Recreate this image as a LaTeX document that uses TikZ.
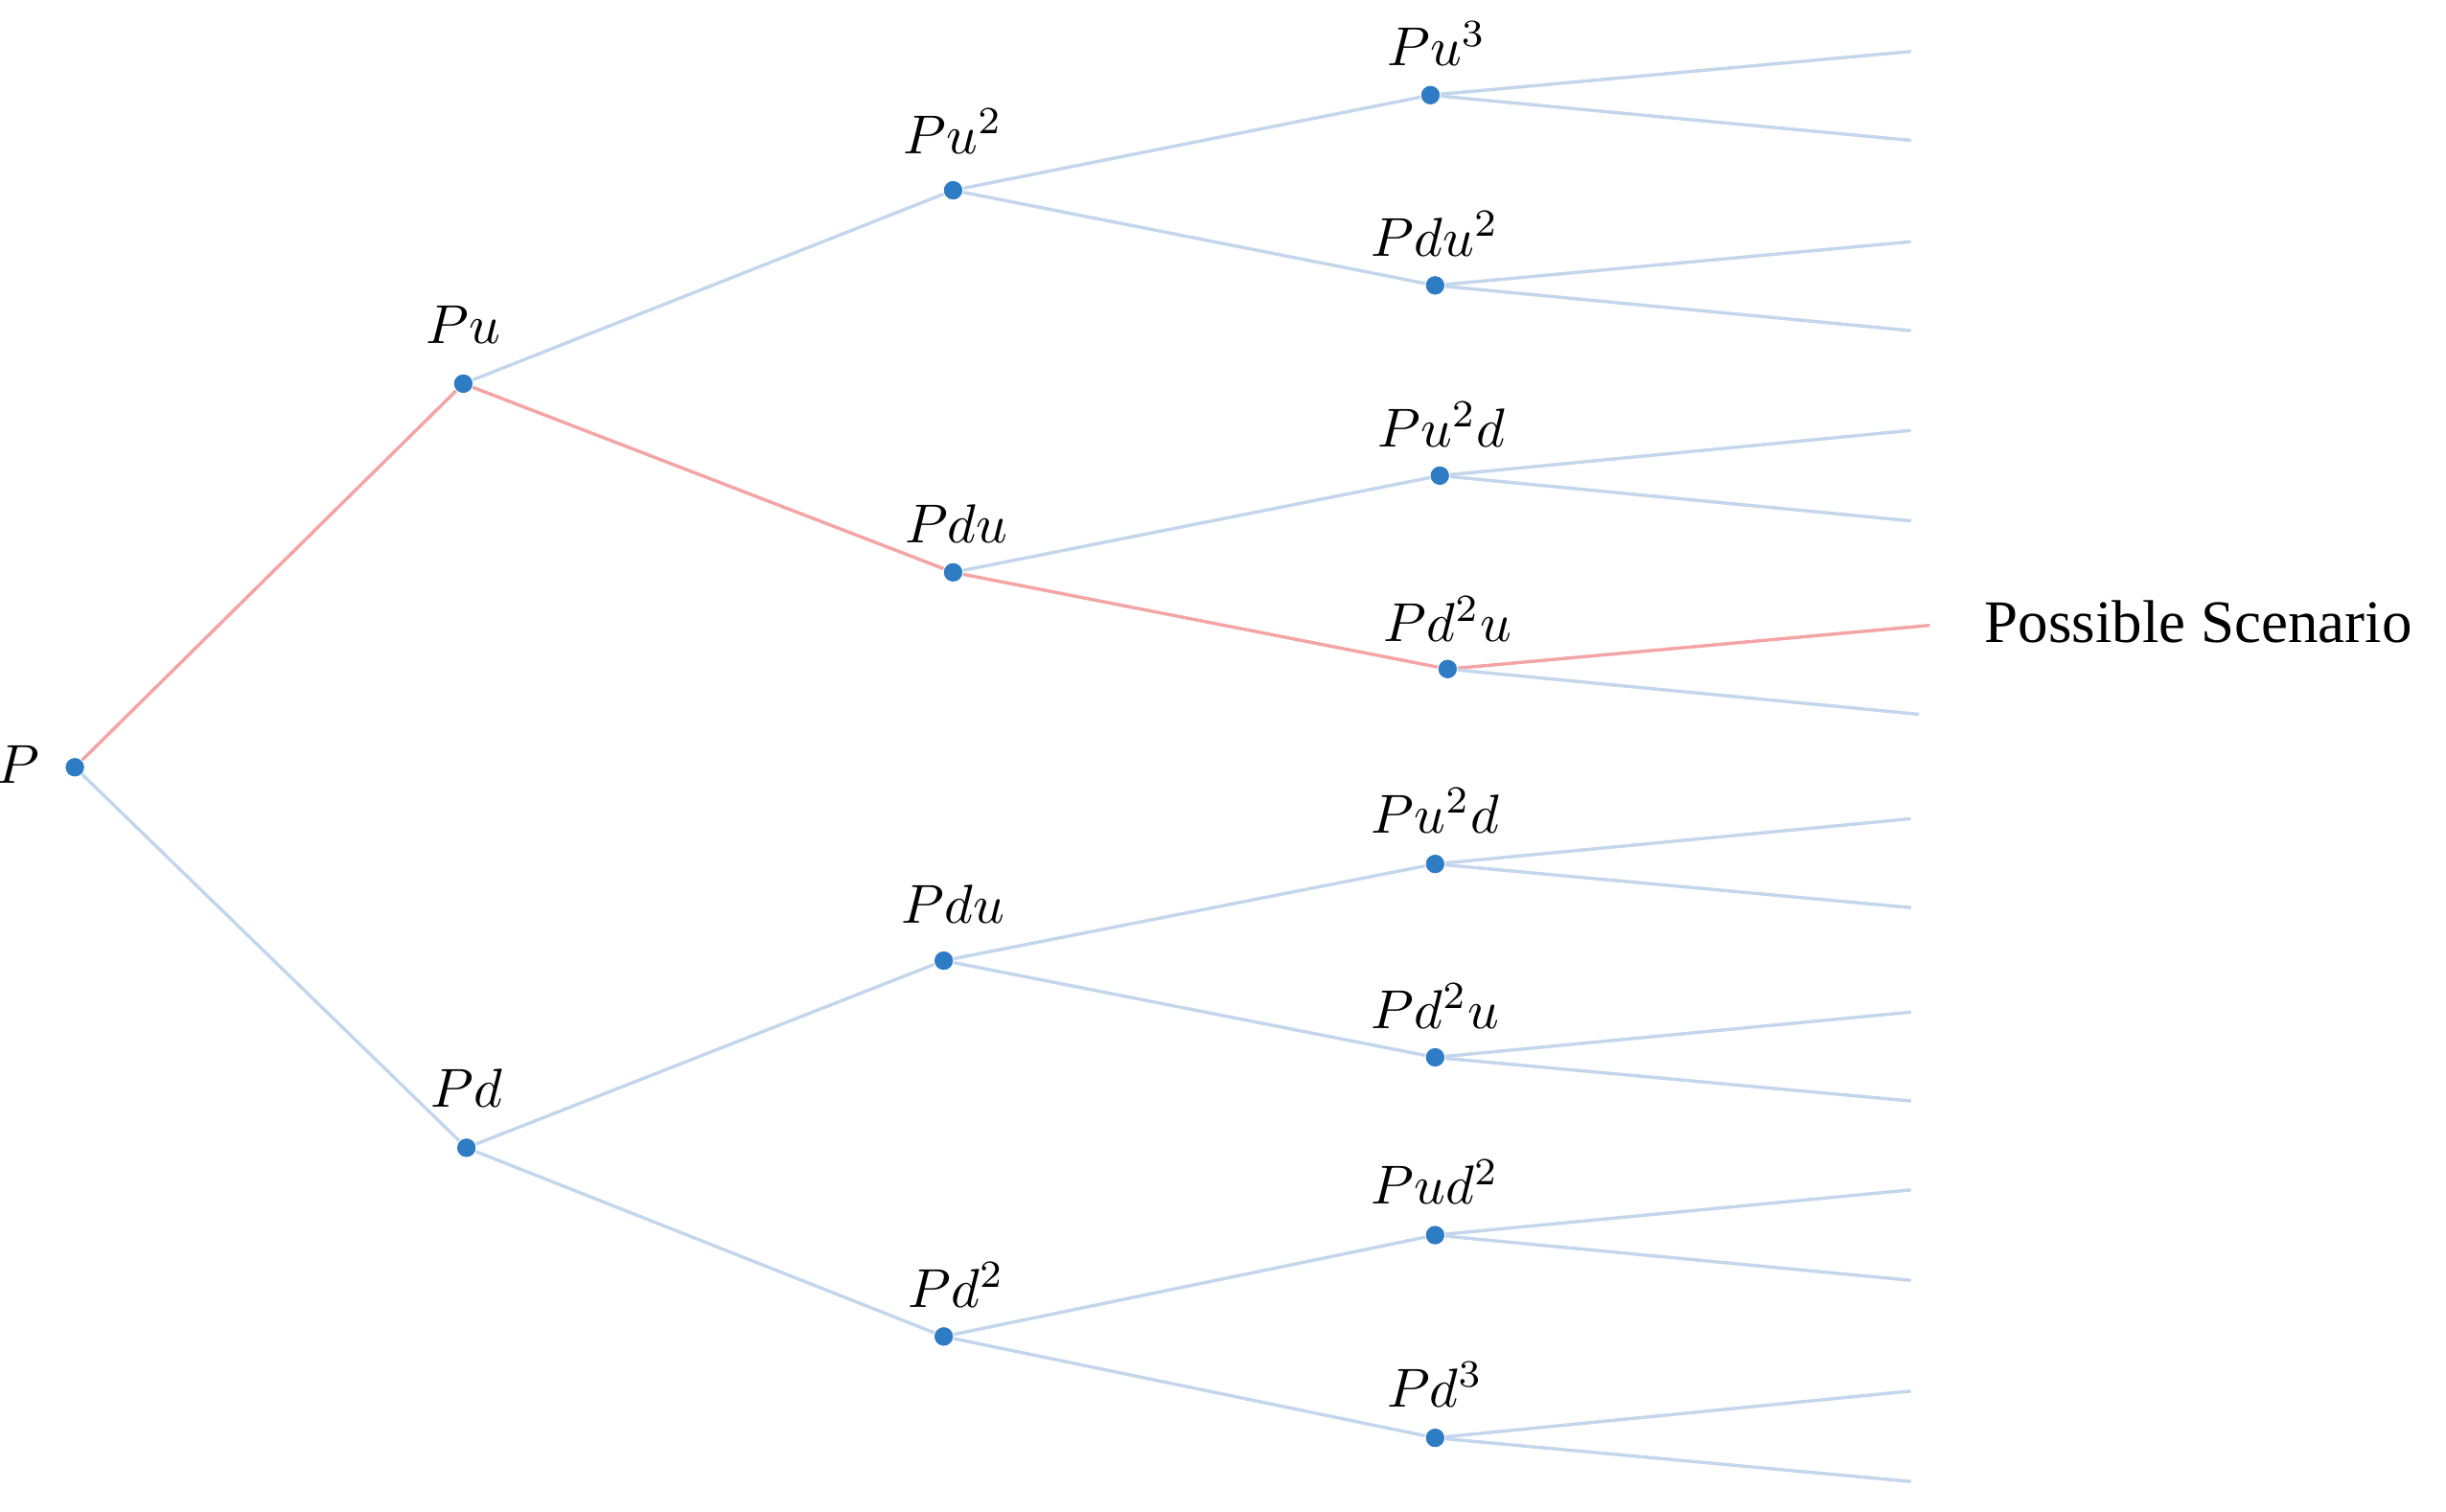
\documentclass[tikz,border=0pt]{standalone}
\usepackage{fontspec}
\setmainfont{Liberation Serif}
\begin{document}
\begin{tikzpicture}[x=0.01cm,y=-0.01cm,
  dot/.style={circle,fill=dotc,inner sep=0pt,minimum size=9.5pt*0.35},
  bl/.style={draw=blc,line width=0.6pt},
  rd/.style={draw=rdc,line width=0.6pt},
  lab/.style={font=\fontsize{10}{11}\selectfont}]
\definecolor{dotc}{HTML}{2E7CC4}
\definecolor{blc}{HTML}{C3D6EC}
\definecolor{rdc}{HTML}{F4A4A4}
\useasboundingbox (0,0) rectangle (1568,969);
\node[dot] (P) at (48,492) {};
\node[dot] (Pu) at (297,246) {};
\node[dot] (Pd) at (299,736) {};
\node[dot] (Puu) at (611,122) {};
\node[dot] (Pdu) at (611,367) {};
\node[dot] (Pdub) at (605,616) {};
\node[dot] (Pdd) at (605,857) {};
\node[dot] (A) at (917,61) {};
\node[dot] (B) at (920,183) {};
\node[dot] (C) at (923,305) {};
\node[dot] (D) at (928,429) {};
\node[dot] (E) at (920,554) {};
\node[dot] (F) at (920,678) {};
\node[dot] (G) at (920,792) {};
\node[dot] (H) at (920,922) {};
\node[lab,anchor=east] at (38,490) {$P$};
\node[lab] at (297,208) {$Pu$};
\node[lab] at (299,698) {$Pd$};
\node[lab] at (611,84) {$Pu^2$};
\node[lab] at (613,336) {$Pdu$};
\node[lab] at (611,580) {$Pdu$};
\node[lab] at (613,824) {$Pd^2$};
\node[lab] at (921,28) {$Pu^3$};
\node[lab] at (920,150) {$Pdu^2$};
\node[lab] at (924,272) {$Pu^2d$};
\node[lab] at (928,397) {$Pd^2u$};
\node[lab] at (920,520) {$Pu^2d$};
\node[lab] at (920,645) {$Pd^2u$};
\node[lab] at (920,758) {$Pud^2$};
\node[lab] at (920,888) {$Pd^3$};
\path[bl] (P) -- (Pd);
\path[rd] (P) -- (Pu);
\path[bl] (Pu) -- (Puu);
\path[rd] (Pu) -- (Pdu);
\path[bl] (Pd) -- (Pdub);
\path[bl] (Pd) -- (Pdd);
\path[bl] (Puu) -- (A); \path[bl] (Puu) -- (B);
\path[bl] (Pdu) -- (C); \path[rd] (Pdu) -- (D);
\path[bl] (Pdub) -- (E); \path[bl] (Pdub) -- (F);
\path[bl] (Pdd) -- (G); \path[bl] (Pdd) -- (H);
\foreach \n/\a/\b in {A/33/90,B/155/212,C/276/334,E/525/582,F/649/706,G/763/821,H/892/950}{
  \coordinate (\n1) at (1225,\a); \coordinate (\n2) at (1225,\b);
  \path[bl] (\n) -- (\n1); \path[bl] (\n) -- (\n2);}
\coordinate (D1) at (1237,401); \coordinate (D2) at (1230,458);
\path[rd] (D) -- (D1); \path[bl] (D) -- (D2);
\node[font=\fontsize{11}{12}\selectfont,anchor=west] (ps) at (1260,399) {Possible Scenario};
\foreach \n in {P,Pu,Pd,Puu,Pdu,Pdub,Pdd,A,B,C,D,E,F,G,H}{\node[dot] at (\n) {};}
\end{tikzpicture}
\end{document}
